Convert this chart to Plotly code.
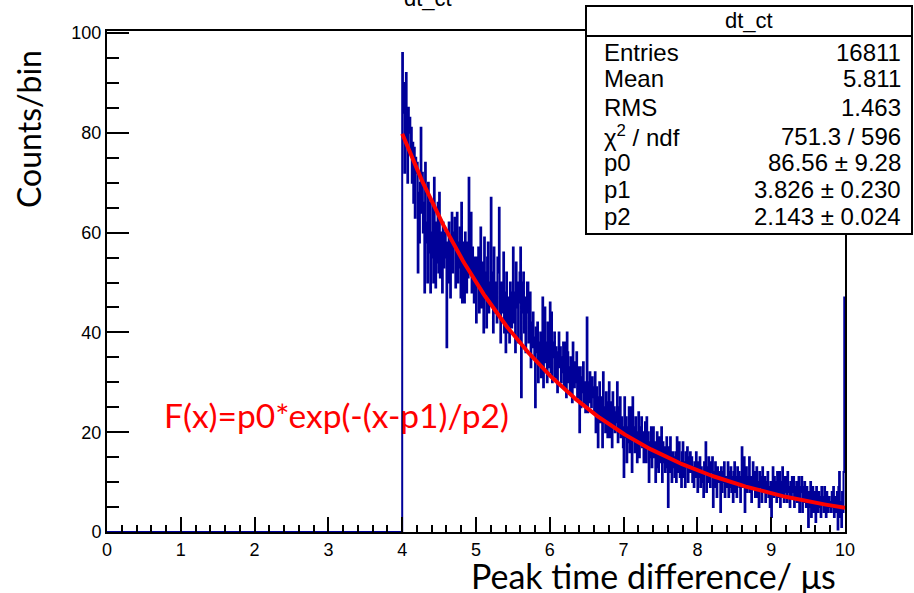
import math
import plotly.graph_objects as go

# ---------------- data ----------------
bin_width = 0.01
hist_start = 4.0
counts = [
    96, 84, 90, 72, 88, 92, 78, 70, 85, 80,
    83, 76, 81, 70, 78, 66, 77, 63, 75, 72,
    74, 52, 68, 58, 70, 81, 64, 72, 60, 66,
    48, 74, 58, 62, 50, 70, 56, 66, 48, 60,
    55, 66, 50, 71, 58, 49, 62, 54, 66, 52,
    68, 51, 60, 56, 48, 62, 53, 58, 60, 55,
    37, 58, 50, 62, 54, 47, 58, 64, 52, 60,
    57, 63, 49, 55, 64, 50, 58, 53, 61, 47,
    66, 46, 58, 52, 46, 60, 55, 48, 58, 51,
    71, 52, 60, 64, 48, 57, 50, 46, 55, 52,
    42, 55, 50, 57, 44, 52, 61, 45, 54, 48,
    40, 59, 47, 52, 41, 55, 58, 44, 50, 46,
    67, 46, 52, 40, 57, 44, 50, 48, 42, 55,
    52, 65, 44, 38, 50, 47, 44, 56, 40, 48,
    36, 52, 40, 47, 43, 38, 50, 45, 41, 48,
    57, 42, 48, 36, 54, 45, 50, 38, 46, 52,
    57, 27, 50, 44, 52, 40, 47, 36, 44, 50,
    50, 38, 45, 48, 33, 42, 37, 44, 39, 35,
    25, 41, 36, 42, 30, 38, 34, 40, 31, 37,
    47, 29, 40, 45, 34, 38, 30, 42, 36, 33,
    46, 32, 44, 30, 38, 35, 40, 31, 37, 34,
    28, 36, 40, 33, 37, 30, 35, 32, 38, 29,
    31, 38, 27, 40, 36, 30, 33, 28, 35, 31,
    26, 38, 32, 29, 34, 30, 36, 27, 33, 29,
    20, 33, 25, 31, 28, 34, 26, 30, 24, 29,
    43, 24, 30, 26, 32, 28, 25, 31, 27, 29,
    24, 32, 20, 29, 27, 17, 25, 30, 22, 26,
    27, 17, 32, 22, 25, 20, 28, 23, 19, 26,
    30, 19, 26, 22, 17, 28, 21, 25, 20, 24,
    22, 30, 18, 25, 20, 27, 19, 23, 21, 17,
    11, 27, 19, 23, 14, 21, 18, 25, 16, 20,
    25, 12, 27, 19, 21, 16, 23, 18, 14, 20,
    24, 15, 21, 18, 23, 17, 20, 14, 19, 22,
    14, 23, 17, 20, 10, 18, 15, 21, 13, 17,
    21, 15, 18, 10, 13, 20, 16, 12, 19, 14,
    16, 21, 10, 18, 14, 17, 12, 15, 19, 13,
    5, 17, 12, 19, 14, 10, 16, 13, 15, 11,
    16, 10, 19, 12, 15, 18, 11, 14, 9, 16,
    18, 11, 14, 9, 16, 13, 17, 10, 15, 12,
    16, 12, 15, 10, 13, 9, 14, 11, 16, 12,
    8, 14, 11, 15, 9, 13, 10, 12, 7, 14,
    12, 18, 8, 13, 10, 15, 11, 9, 14, 12,
    15, 5, 12, 9, 14, 11, 7, 13, 10, 12,
    11, 4, 13, 8, 12, 10, 14, 7, 11, 9,
    10, 14, 7, 12, 9, 13, 8, 11, 6, 12,
    14, 8, 11, 7, 13, 10, 12, 9, 6, 11,
    17, 9, 12, 15, 4, 10, 13, 8, 11, 9,
    15, 8, 11, 6, 10, 14, 9, 12, 7, 10,
    13, 7, 10, 5, 12, 9, 11, 6, 13, 8,
    9, 11, 6, 10, 8, 12, 7, 9, 5, 10,
    3, 9, 13, 7, 11, 8, 10, 6, 12, 7,
    8, 12, 5, 10, 7, 13, 9, 6, 11, 8,
    11, 6, 12, 8, 9, 5, 10, 7, 11, 8,
    11, 5, 9, 7, 10, 6, 8, 11, 4, 9,
    8, 11, 4, 9, 6, 10, 7, 5, 9, 6,
    1, 8, 5, 10, 3, 7, 9, 4, 8, 6,
    2, 9, 6, 4, 8, 5, 7, 3, 9, 6,
    7, 4, 9, 5, 3, 8, 6, 4, 7, 5,
    6, 4, 8, 5, 9, 3, 7, 4, 6, 8,
    0.5, 9, 12, 3, 6, 1, 8, 4, 12, 47,
]
x_ticks = [0, 1, 2, 3, 4, 5, 6, 7, 8, 9, 10]
y_ticks = [0, 20, 40, 60, 80, 100]

# fit parameters (from stats box)
p0, p1, p2 = 86.56, 3.826, 2.143
fit_range = (4.0, 10.0)

stats_title = "dt_ct"
stats_labels = ["Entries", "Mean", "RMS", "χ<sup>2</sup> / ndf", "p0", "p1", "p2"]
stats_values = ["16811", "5.811", "1.463", "751.3 / 596", "86.56 ± 9.28",
                "3.826 ± 0.230", "2.143 ± 0.024"]

# ---------------- figure ----------------
edges = [hist_start + i * bin_width for i in range(len(counts))]
hx = [0.0] + edges + [hist_start + len(counts) * bin_width]
hy = [0.0] + counts + [counts[-1]]

nfit = 300
fx = [fit_range[0] + (fit_range[1] - fit_range[0]) * i / (nfit - 1) for i in range(nfit)]
fy = [p0 * math.exp(-(x - p1) / p2) for x in fx]

W, H = 914, 593
L, R, T, B = 107, 845, 31, 532


def px(x):
    return (x - L) / (R - L)


def py(y):
    return (B - y) / (B - T)


fig = go.Figure()
fig.add_trace(go.Scatter(x=hx, y=hy, mode="lines", line=dict(shape="hv", color="#000099", width=2),
                         showlegend=False, hoverinfo="skip"))
fig.add_trace(go.Scatter(x=fx, y=fy, mode="lines", line=dict(color="#ff0000", width=4),
                         showlegend=False, hoverinfo="skip"))

axis_font = dict(family="Liberation Sans, Arial, sans-serif", size=18, color="black")
fig.update_layout(
    width=W, height=H,
    margin=dict(l=L, r=W - R, t=T, b=H - B),
    paper_bgcolor="white", plot_bgcolor="white",
    xaxis=dict(range=[0, 10], tickvals=x_ticks, ticktext=[str(v) for v in x_ticks],
               ticks="inside", ticklen=15, tickwidth=2, tickcolor="black",
               showline=True, linecolor="black", linewidth=2, mirror=True,
               showgrid=False, zeroline=False, tickfont=axis_font,
               minor=dict(dtick=0.2, ticks="inside", ticklen=7, tickwidth=2, tickcolor="black")),
    yaxis=dict(range=[0, 100.4], tickvals=y_ticks, ticktext=[str(v) for v in y_ticks],
               ticks="inside", ticklen=22, tickwidth=2, tickcolor="black",
               showline=True, linecolor="black", linewidth=2, mirror=True,
               showgrid=False, zeroline=False, tickfont=axis_font,
               minor=dict(dtick=5, ticks="inside", ticklen=12, tickwidth=2, tickcolor="black")),
)

ann = []
# histogram title (partly cut at top)
ann.append(dict(x=px(428), y=py(-2), xref="paper", yref="paper", text="dt_ct", showarrow=False,
                xanchor="center", yanchor="middle",
                font=dict(family="Liberation Sans, Arial, sans-serif", size=22, color="black")))
# axis titles
ann.append(dict(x=px(838), y=py(575), xref="paper", yref="paper", text="Peak time difference/ μs",
                showarrow=False, xanchor="right", yanchor="middle",
                font=dict(family="Lato, Open Sans, sans-serif", size=34, color="black")))
ann.append(dict(x=px(29), y=py(129), xref="paper", yref="paper", text="Counts/bin", textangle=-90,
                showarrow=False, xanchor="center", yanchor="middle",
                font=dict(family="Lato, Open Sans, sans-serif", size=32, color="black")))
# fit formula
ann.append(dict(x=px(162), y=py(415), xref="paper", yref="paper", text="F(x)=p0*exp(-(x-p1)/p2)",
                showarrow=False, xanchor="left", yanchor="middle",
                font=dict(family="Lato, Open Sans, sans-serif", size=33.5, color="#ff0000")))

# stats box
box_l, box_r, box_t, box_b, box_sep = 586, 912, 6, 234, 36
shapes = [
    dict(type="rect", xref="paper", yref="paper", x0=px(box_l), x1=px(box_r), y0=py(box_b), y1=py(box_t),
         fillcolor="white", line=dict(color="black", width=2), layer="above"),
    dict(type="line", xref="paper", yref="paper", x0=px(box_l), x1=px(box_r), y0=py(box_sep), y1=py(box_sep),
         line=dict(color="black", width=2), layer="above"),
]
stat_font = dict(family="Liberation Sans, Arial, sans-serif", size=24, color="black")
ann.append(dict(x=px((box_l + box_r) / 2), y=py(21), xref="paper", yref="paper", text=stats_title,
                showarrow=False, xanchor="center", yanchor="middle",
                font=dict(family="Liberation Sans, Arial, sans-serif", size=22, color="black")))
row_y = [52, 79, 108, 136, 163, 190, 216]
for lab, val, yy in zip(stats_labels, stats_values, row_y):
    ann.append(dict(x=px(602), y=py(yy), xref="paper", yref="paper", text=lab, showarrow=False,
                    xanchor="left", yanchor="middle", font=stat_font))
    ann.append(dict(x=px(903), y=py(yy), xref="paper", yref="paper", text=val, showarrow=False,
                    xanchor="right", yanchor="middle", font=stat_font))

fig.update_layout(annotations=ann, shapes=shapes)
fig.write_html("out.html", config={"displayModeBar": False},
               post_script="document.body.style.margin='0';")
